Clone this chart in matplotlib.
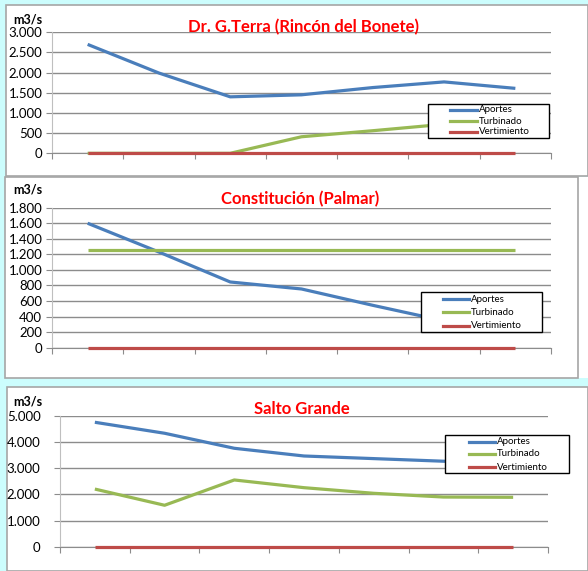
import matplotlib
matplotlib.use("Agg")
import matplotlib.pyplot as plt
from matplotlib.patches import Rectangle
from matplotlib.lines import Line2D
from matplotlib.ticker import FuncFormatter, MultipleLocator

# ---------------- data ----------------
categories = [1, 2, 3, 4, 5, 6, 7]
series_names = ["Aportes", "Turbinado", "Vertimiento"]

terra_title = "Dr. G.Terra (Rincón del Bonete)"
terra_aportes = [2700, 1990, 1400, 1450, 1630, 1770, 1610]
terra_turbinado = [0, 0, 0, 410, 560, 720, 760]
terra_vertimiento = [0, 0, 0, 0, 0, 0, 0]

palmar_title = "Constitución (Palmar)"
palmar_aportes = [1600, 1230, 845, 755, 545, 345, 300]
palmar_turbinado = [1250, 1250, 1250, 1250, 1250, 1250, 1250]
palmar_vertimiento = [0, 0, 0, 0, 0, 0, 0]

salto_title = "Salto Grande"
salto_aportes = [4760, 4340, 3765, 3470, 3370, 3270, 3200]
salto_turbinado = [2205, 1585, 2553, 2258, 2043, 1900, 1890]
salto_vertimiento = [0, 0, 0, 0, 0, 0, 0]

unit_label = "m3/s"

# ---------------- style ----------------
W, H = 588, 571
COLORS = ["#4a7ebb", "#98b954", "#be4b48"]
BG = "#ccfdfd"
BORDER = "#a6a6a6"
GRID = "#8c8c8c"
FONT = "Lato"

fig = plt.figure(figsize=(W / 100, H / 100), dpi=100)
fig.patch.set_facecolor(BG)


def fx(x):
    return x / W


def fy(y):
    return 1 - y / H


def panel(x0, y0, x1, y1, border_x1=None):
    fig.patches.append(Rectangle((fx(x0), fy(y1)), fx(x1) - fx(x0), fy(y0) - fy(y1),
                                 transform=fig.transFigure, facecolor="white",
                                 edgecolor="none", zorder=-2))
    bx1 = border_x1 if border_x1 is not None else x1
    fig.patches.append(Rectangle((fx(x0), fy(y1)), fx(bx1) - fx(x0), fy(y0) - fy(y1),
                                 transform=fig.transFigure, facecolor="none",
                                 edgecolor=BORDER, linewidth=1.2, zorder=-1))


def thousands(v, pos):
    return f"{int(round(v)):,}".replace(",", ".")


def make_axes(x0, ytop, x1, ybot, ymax, step, tickpad):
    ax = fig.add_axes([fx(x0), fy(ybot), fx(x1) - fx(x0), fy(ytop) - fy(ybot)])
    ax.set_zorder(1)
    ax.set_facecolor("none")
    ax.set_xlim(0.5, 7.5)
    ax.set_ylim(0, ymax)
    ax.yaxis.set_major_locator(MultipleLocator(step))
    ax.yaxis.set_major_formatter(FuncFormatter(thousands))
    ax.set_xticks([c + 0.5 for c in [0] + categories])
    ax.set_xticklabels([])
    for s in ["top", "right"]:
        ax.spines[s].set_visible(False)
    ax.spines["left"].set_color("#bfbfbf")
    ax.spines["bottom"].set_color(GRID)
    ax.tick_params(axis="x", length=4, color=GRID, direction="out")
    ax.tick_params(axis="y", length=4, color=GRID, direction="out",
                   labelsize=9.5, pad=tickpad, labelcolor="#000000")
    for lab in ax.get_yticklabels():
        lab.set_fontfamily(FONT)
    ax.grid(axis="y", color=GRID, linewidth=1.0)
    ax.set_axisbelow(True)
    return ax


def draw_series(ax, data):
    for vals, col in zip(data, COLORS):
        ax.plot(categories, vals, color=col, linewidth=2.3, solid_capstyle="butt",
                zorder=3, clip_on=False)


def legend(x0, y0, x1, y1, rows_y, hx0, hx1, tx):
    fig.patches.append(Rectangle((fx(x0), fy(y1)), fx(x1) - fx(x0), fy(y0) - fy(y1),
                                 transform=fig.transFigure, facecolor="white",
                                 edgecolor="black", linewidth=1.0, zorder=5))
    for name, col, ry in zip(series_names, COLORS, rows_y):
        fig.lines.append(Line2D([fx(hx0), fx(hx1)], [fy(ry), fy(ry)],
                                transform=fig.transFigure, color=col,
                                linewidth=2.3, zorder=6))
        fig.text(fx(tx), fy(ry), name, fontsize=7, family=FONT, va="center",
                 ha="left", zorder=6)


def title(text, xc, ybase):
    fig.text(fx(xc), fy(ybase), text, color="#ff0000", fontsize=12,
             fontweight="bold", family=FONT, ha="center", va="baseline", zorder=6)


def unit(x, ybase):
    fig.text(fx(x), fy(ybase), unit_label, fontsize=9, fontweight="bold",
             family=FONT, ha="left", va="baseline", zorder=6)


# panels
panel(6, 5, 588, 176)
panel(5, 177, 588, 378, border_x1=578)
panel(7, 387, 588, 571)

# panel 1
ax1 = make_axes(52, 32.3, 551, 153.3, 3000, 500, 3)
draw_series(ax1, [terra_aportes, terra_turbinado, terra_vertimiento])
title(terra_title, 303, 32)
unit(13, 24)
legend(428, 104, 549, 138, [109.5, 121, 132], 450, 477, 479)

# panel 2
ax2 = make_axes(52, 207.7, 551, 347.7, 1800, 200, 3)
draw_series(ax2, [palmar_aportes, palmar_turbinado, palmar_vertimiento])
title(palmar_title, 300, 204)
unit(13, 194)
legend(421, 292, 542, 332, [299, 312.3, 325.5], 443, 469, 471)

# panel 3
ax3 = make_axes(60, 416, 548, 546.7, 5000, 1000, 10)
draw_series(ax3, [salto_aportes, salto_turbinado, salto_vertimiento])
title(salto_title, 302, 413.5)
unit(13.5, 405)
legend(445, 435, 569, 473, [441.7, 454, 467.3], 469, 495, 497)

fig.savefig("out.png", dpi=100, facecolor=fig.get_facecolor())
